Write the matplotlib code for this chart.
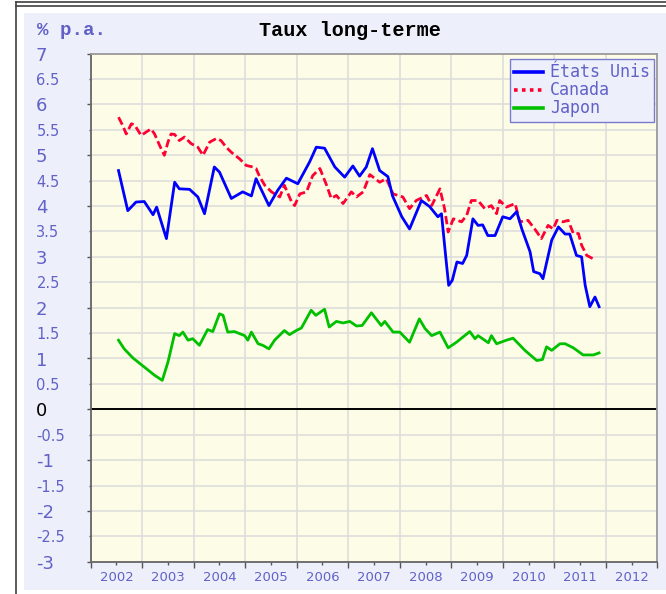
import matplotlib
matplotlib.use("Agg")
import matplotlib.pyplot as plt
from matplotlib.lines import Line2D
from matplotlib.patches import Rectangle
import numpy as np

plt.rcParams['axes.unicode_minus'] = False

# ---------------- data ----------------
us_years = [2002.54, 2002.72, 2002.88, 2003.04, 2003.21, 2003.28, 2003.47, 2003.63, 2003.72, 2003.92,
            2004.08, 2004.21, 2004.40, 2004.50, 2004.73, 2004.95, 2005.12, 2005.21, 2005.46, 2005.63,
            2005.80, 2006.02, 2006.25, 2006.38, 2006.54, 2006.74, 2006.93, 2007.09, 2007.22, 2007.35,
            2007.47, 2007.61, 2007.77, 2007.86, 2008.04, 2008.19, 2008.42, 2008.58, 2008.74, 2008.81,
            2008.89, 2008.95, 2009.02, 2009.11, 2009.22, 2009.30, 2009.42, 2009.52, 2009.61, 2009.71,
            2009.85, 2010.00, 2010.14, 2010.27, 2010.37, 2010.53, 2010.60, 2010.72, 2010.78, 2010.95,
            2011.08, 2011.21, 2011.30, 2011.43, 2011.53, 2011.60, 2011.69, 2011.79, 2011.87]
us_vals = [4.70, 3.91, 4.08, 4.09, 3.83, 3.98, 3.36, 4.47, 4.34, 4.33,
           4.18, 3.85, 4.77, 4.67, 4.15, 4.28, 4.20, 4.54, 4.01, 4.31,
           4.55, 4.44, 4.87, 5.16, 5.14, 4.77, 4.57, 4.79, 4.59, 4.77,
           5.13, 4.70, 4.58, 4.20, 3.79, 3.55, 4.11, 3.99, 3.79, 3.85,
           3.03, 2.44, 2.54, 2.90, 2.87, 3.03, 3.75, 3.62, 3.63, 3.42,
           3.42, 3.79, 3.75, 3.89, 3.55, 3.10, 2.71, 2.67, 2.57, 3.33,
           3.59, 3.45, 3.45, 3.03, 3.00, 2.44, 2.02, 2.21, 2.02]

ca_years = [2002.54, 2002.62, 2002.69, 2002.79, 2002.85, 2002.98, 2003.08, 2003.17, 2003.24, 2003.34,
            2003.43, 2003.50, 2003.56, 2003.63, 2003.72, 2003.82, 2003.95, 2004.08, 2004.18, 2004.31,
            2004.44, 2004.53, 2004.63, 2004.73, 2004.89, 2005.02, 2005.15, 2005.21, 2005.28, 2005.38,
            2005.51, 2005.67, 2005.76, 2005.90, 2005.96, 2006.06, 2006.19, 2006.31, 2006.45, 2006.58,
            2006.67, 2006.77, 2006.90, 2007.06, 2007.16, 2007.29, 2007.42, 2007.61, 2007.74, 2007.87,
            2008.06, 2008.19, 2008.32, 2008.52, 2008.62, 2008.78, 2008.87, 2008.94, 2009.04, 2009.20,
            2009.30, 2009.39, 2009.52, 2009.65, 2009.78, 2009.88, 2009.94, 2010.07, 2010.24, 2010.33,
            2010.49, 2010.62, 2010.75, 2010.88, 2010.98, 2011.05, 2011.17, 2011.27, 2011.37, 2011.47,
            2011.53, 2011.63, 2011.76]
ca_vals = [5.75, 5.59, 5.42, 5.62, 5.60, 5.39, 5.46, 5.52, 5.42, 5.19,
           5.00, 5.26, 5.42, 5.41, 5.29, 5.36, 5.23, 5.16, 5.00, 5.26,
           5.33, 5.29, 5.16, 5.06, 4.93, 4.80, 4.77, 4.74, 4.58, 4.41,
           4.28, 4.18, 4.41, 4.08, 4.01, 4.24, 4.28, 4.60, 4.74, 4.41,
           4.15, 4.21, 4.05, 4.28, 4.18, 4.28, 4.62, 4.47, 4.54, 4.24,
           4.18, 3.95, 4.11, 4.21, 4.01, 4.34, 3.95, 3.49, 3.75, 3.69,
           3.82, 4.11, 4.11, 3.95, 4.01, 3.85, 4.11, 3.98, 4.05, 3.69,
           3.72, 3.55, 3.36, 3.62, 3.55, 3.72, 3.69, 3.72, 3.46, 3.46,
           3.23, 3.03, 2.96]

jp_years = [2002.54, 2002.65, 2002.82, 2003.08, 2003.24, 2003.39, 2003.50, 2003.63, 2003.72, 2003.79,
            2003.89, 2003.98, 2004.11, 2004.27, 2004.37, 2004.50, 2004.57, 2004.66, 2004.79, 2004.99,
            2005.05, 2005.12, 2005.25, 2005.34, 2005.46, 2005.57, 2005.76, 2005.86, 2005.99, 2006.09,
            2006.28, 2006.37, 2006.54, 2006.63, 2006.77, 2006.90, 2007.03, 2007.16, 2007.27, 2007.45,
            2007.64, 2007.71, 2007.87, 2008.00, 2008.19, 2008.38, 2008.49, 2008.62, 2008.78, 2008.94,
            2009.10, 2009.36, 2009.46, 2009.52, 2009.72, 2009.78, 2009.88, 2010.07, 2010.20, 2010.43,
            2010.66, 2010.77, 2010.85, 2010.95, 2011.11, 2011.21, 2011.37, 2011.56, 2011.76, 2011.87]
jp_vals = [1.36, 1.19, 1.01, 0.80, 0.67, 0.57, 0.93, 1.49, 1.45, 1.52,
           1.36, 1.39, 1.26, 1.57, 1.53, 1.88, 1.85, 1.52, 1.53, 1.45,
           1.36, 1.52, 1.29, 1.26, 1.19, 1.36, 1.55, 1.47, 1.55, 1.60,
           1.95, 1.85, 1.97, 1.62, 1.73, 1.70, 1.73, 1.64, 1.65, 1.90,
           1.65, 1.73, 1.52, 1.52, 1.32, 1.78, 1.59, 1.45, 1.52, 1.21,
           1.32, 1.53, 1.39, 1.45, 1.31, 1.45, 1.29, 1.36, 1.40, 1.16,
           0.96, 0.98, 1.23, 1.16, 1.29, 1.29, 1.21, 1.07, 1.07, 1.11]

series_labels = ["États Unis", "Canada", "Japon"]
year_labels = [str(y) for y in range(2002, 2013)]
y_major = list(range(-3, 8))
y_minor = [v + 0.5 for v in range(-3, 7)]

title = "Taux long-terme"
unit_label = "% p.a."

# ---------------- style ----------------
TXT = "#6161C8"
PANEL = "#EDF0FA"
FACE = "#FDFDE7"
W, H = 666, 594

fig = plt.figure(figsize=(W / 100, H / 100), dpi=100, facecolor="white")

# outer frame & panel (behind the axes)
fig.patches.append(Rectangle((24 / W, 1 - 590 / H), 1 - 24 / W, (590 - 13) / H,
                             transform=fig.transFigure, facecolor=PANEL, edgecolor="none",
                             zorder=-10))
for yy in (2, 6):
    fig.add_artist(Line2D([16 / W, 1], [1 - yy / H, 1 - yy / H], transform=fig.transFigure,
                          color="#404040", lw=1.2, zorder=-5))
fig.add_artist(Line2D([16 / W, 16 / W], [0, 1 - 2 / H], transform=fig.transFigure,
                      color="#404040", lw=1.2, zorder=-5))

left, right = 90.7, 657.3
top, bottom = 53.7, 561.7
ax = fig.add_axes([left / W, 1 - bottom / H, (right - left) / W, (bottom - top) / H])
ax.set_zorder(1)
ax.set_facecolor(FACE)

ax.set_xlim(2002, 2013)
ax.set_ylim(-3, 7)

# ticks & grid
ax.set_xticks(range(2002, 2014))
ax.set_xticklabels([])
ax.set_xticks([y + 0.5 for y in range(2002, 2013)], minor=True)
ax.set_xticklabels(year_labels, minor=True)
ax.set_yticks(y_major)
ax.set_yticklabels([str(v) for v in y_major])
ax.set_yticks(y_minor, minor=True)
ax.set_yticklabels([("%g" % v) for v in y_minor], minor=True)

ax.grid(True, axis="x", which="major", color="#DCDCDC", lw=1.1)
ax.grid(True, axis="y", which="both", color="#DCDCDC", lw=1.1)
ax.set_axisbelow(True)

ax.tick_params(axis="x", which="major", length=4, width=1, color="#555555", direction="out")
ax.tick_params(axis="x", which="minor", length=2, width=1, color="#555555", direction="out",
               labelsize=9.5, labelcolor=TXT, pad=5)
ax.tick_params(axis="y", which="major", length=3, width=1, color="#555555", direction="out",
               labelsize=13, labelcolor=TXT, pad=(left - 3 - 37) * 0.72)
ax.tick_params(axis="y", which="minor", length=1.5, width=1, color="#555555", direction="out",
               labelsize=10.5, labelcolor=TXT, pad=(left - 1.5 - 37) * 0.72)
for lab in ax.get_yticklabels() + ax.get_yticklabels(minor=True):
    lab.set_horizontalalignment("left")
for lab, v in zip(ax.get_yticklabels(), y_major):
    if v == 0:
        lab.set_color("black")

for side in ("left", "bottom"):
    ax.spines[side].set_color("#666666")
    ax.spines[side].set_linewidth(1.3)
for side in ("top", "right"):
    ax.spines[side].set_color("#9A9A9A")
    ax.spines[side].set_linewidth(1.3)

ax.axhline(0, color="black", lw=1.4, zorder=2)

# series
ax.plot(us_years, us_vals, color="#0000FF", lw=2.0, label=series_labels[0], zorder=4)
ax.plot(ca_years, ca_vals, color="#FF0033", lw=2.0, ls=(0, (3.0, 1.3)), label=series_labels[1], zorder=3)
ax.plot(jp_years, jp_vals, color="#00C000", lw=2.0, label=series_labels[2], zorder=3)

# legend
handles = [Line2D([], [], color="#0000FF", lw=2.6),
           Line2D([], [], color="#FF0033", lw=2.6, ls=(0, (1, 1.2))),
           Line2D([], [], color="#00C000", lw=2.6)]
leg = ax.legend(handles, series_labels, loc="upper right", bbox_to_anchor=(0.9947, 0.989),
                borderaxespad=0, frameon=True, fancybox=False, framealpha=1,
                facecolor=PANEL, edgecolor="#7A7AD0",
                prop={"family": "DejaVu Sans Mono", "size": 12},
                handlelength=1.75, handletextpad=0.4, labelspacing=0.0, borderpad=0.25)
leg.get_frame().set_linewidth(1.0)
for t in leg.get_texts():
    t.set_color(TXT)

# titles
fig.text(349.5 / W, 1 - 30 / H, title, ha="center", va="center", family="Liberation Mono",
         fontsize=14.5, fontweight="bold", color="black")
fig.text(37 / W, 1 - 30.7 / H, unit_label, ha="left", va="center", family="Liberation Mono",
         fontsize=13.8, fontweight="bold", color=TXT)

fig.savefig("out.png", dpi=100, facecolor="white")
